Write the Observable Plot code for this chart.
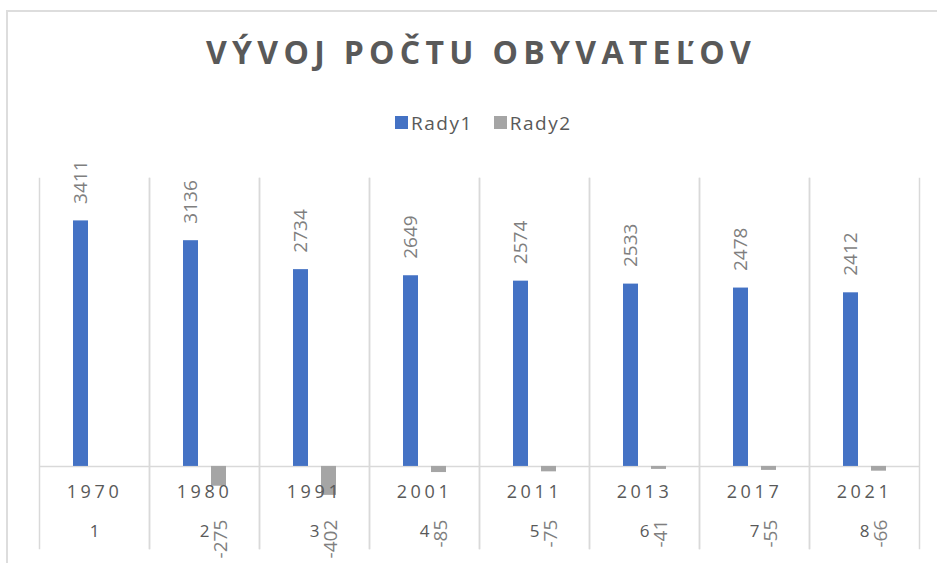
<!DOCTYPE html>
<html>
<head>
<meta charset="utf-8">
<script src="https://cdn.jsdelivr.net/npm/d3@7"></script>
<script src="https://cdn.jsdelivr.net/npm/@observablehq/plot@0.6"></script>
<style>
  body { margin: 0; background: #fff; }
  #wrap { position: relative; width: 937px; height: 563px; overflow: hidden; font-family: "Open Sans", sans-serif; }
  #border { position: absolute; left: 6px; top: 10px; width: 1000px; height: 700px; border: 2px solid #DDDDDD; box-sizing: border-box; }
  #title { position: absolute; left: 10px; top: 36px; width: 937px; padding-left: 5px; box-sizing: border-box; text-align: center;
           font-size: 32px; line-height: 32px; font-weight: 700; letter-spacing: 5.3px; color: #595959; white-space: nowrap; }
  #legend { position: absolute; left: 395px; top: 106px; }
  #legend .lg-swatches { font-family: "Open Sans", sans-serif; font-size: 19px; color: #595959; letter-spacing: 1.5px; margin: 0; }
  #legend .lg-swatch { margin-right: 21px; }
  #legend .lg-swatch > svg { margin-right: 3px; }
  #chart { position: absolute; left: 0; top: 150px; }
</style>
</head>
<body>
<div id="wrap">
  <div id="border"></div>
  <div id="title">VÝVOJ POČTU OBYVATEĽOV</div>
  <div id="legend"></div>
  <div id="chart"></div>
</div>
<script>
const years = ["1970", "1980", "1991", "2001", "2011", "2013", "2017", "2021"];
const indexes = ["1", "2", "3", "4", "5", "6", "7", "8"];
const rady1 = [3411, 3136, 2734, 2649, 2574, 2533, 2478, 2412];
const rady2 = [null, -275, -402, -85, -75, -41, -55, -66];
const series = ["Rady1", "Rady2"];
const colors = ["#4472C4", "#A5A5A5"];

const data = years.flatMap((y, i) => [
  {year: y, series: series[0], value: rady1[i]},
  {year: y, series: series[1], value: rady2[i]}
]).filter(d => d.value != null);

const chart = Plot.plot({
  width: 937,
  height: 410,
  marginLeft: 37,
  marginRight: 16,
  marginTop: 28,
  marginBottom: 12,
  fx: {domain: years, padding: 0, axis: null},
  x: {domain: series, paddingInner: 0.4755, paddingOuter: 1.1696, axis: null},
  y: {domain: [-1140, 4000], axis: null},
  color: {domain: series, range: colors},
  style: {fontFamily: "Open Sans, sans-serif", background: "transparent", overflow: "visible"},
  marks: [
    Plot.frame({anchor: "left", stroke: "#D9D9D9", strokeWidth: 1.5}),
    Plot.frame({anchor: "right", stroke: "#D9D9D9", strokeWidth: 1.5}),
    Plot.ruleY([0], {stroke: "#D9D9D9", strokeWidth: 1.5}),
    Plot.barY(data, {fx: "year", x: "series", y: "value", fill: "series"}),
    Plot.text(years, {fx: d => d, text: d => d, frameAnchor: "bottom", dy: -51, dx: 0,
      fill: "#595959", fontSize: 18, ariaDescription: "years"}),
    Plot.text(years, {fx: d => d, text: (d, i) => indexes[i], frameAnchor: "bottom", dy: -12,
      fill: "#595959", fontSize: 17}),
    Plot.text(data.filter(d => d.value > 0), {fx: "year", x: "series", y: "value", text: d => String(d.value),
      rotate: -90, textAnchor: "start", dy: -17, fill: "#7F7F7F", fontSize: 19}),
    Plot.text(data.filter(d => d.value < 0), {fx: "year", x: "series", y: d => Math.min(d.value - 300, -740),
      text: d => String(d.value), rotate: -90, textAnchor: "end", dx: 2, fill: "#7F7F7F", fontSize: 19})
  ]
});
d3.select(chart).selectAll('g[aria-description="years"] text').style("letter-spacing", "3.6px");
document.getElementById("chart").appendChild(chart);

const legend = Plot.legend({
  color: {type: "ordinal", domain: series, range: colors},
  swatchSize: 13,
  className: "lg"
});
document.getElementById("legend").appendChild(legend);
</script>
</body>
</html>
